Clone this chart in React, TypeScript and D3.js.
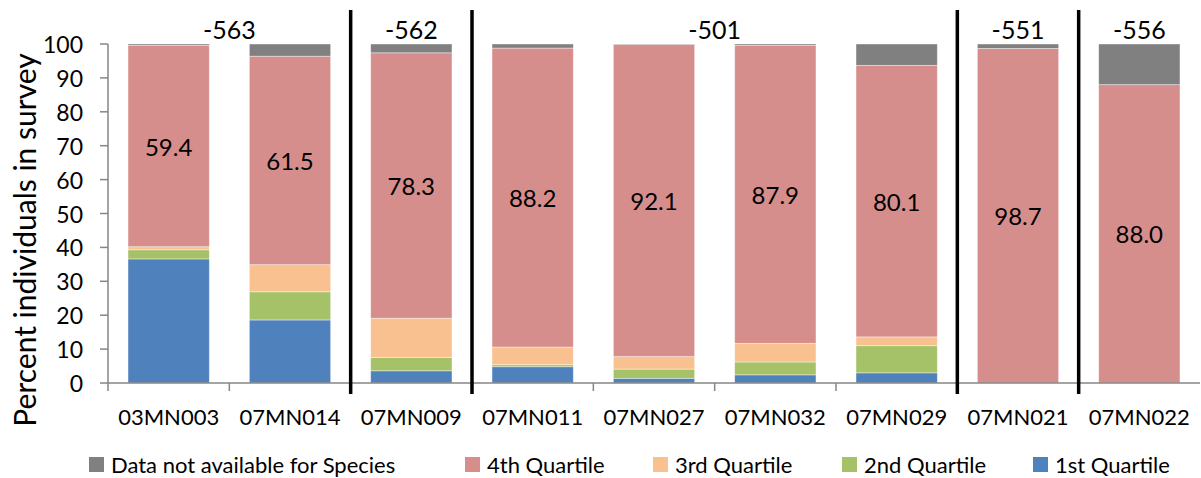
import React from "react";
import * as d3 from "d3";

const categories = ["03MN003", "07MN014", "07MN009", "07MN011", "07MN027", "07MN032", "07MN029", "07MN021", "07MN022"];
const q1 = [36.6, 18.6, 3.6, 4.8, 1.4, 2.4, 3.0, 0, 0];
const q2 = [2.7, 8.3, 3.9, 0.6, 2.7, 3.8, 8.0, 0, 0];
const q3 = [0.9, 8.0, 11.6, 5.2, 3.7, 5.5, 2.6, 0, 0];
const q4 = [59.4, 61.5, 78.3, 88.2, 92.1, 87.9, 80.1, 98.7, 88.0];
const na = [0.4, 3.6, 2.6, 1.2, 0.1, 0.4, 6.3, 1.3, 12.0];
const q4Labels = ["59.4", "61.5", "78.3", "88.2", "92.1", "87.9", "80.1", "98.7", "88.0"];
const groups = [
  { label: "-563", from: 0, to: 1 },
  { label: "-562", from: 2, to: 2 },
  { label: "-501", from: 3, to: 6 },
  { label: "-551", from: 7, to: 7 },
  { label: "-556", from: 8, to: 8 },
];
const yTicks = [0, 10, 20, 30, 40, 50, 60, 70, 80, 90, 100];

const seriesKeys = ["q1", "q2", "q3", "q4", "na"];
const seriesNames: Record<string, string> = {
  na: "Data not available for Species",
  q4: "4th Quartile",
  q3: "3rd Quartile",
  q2: "2nd Quartile",
  q1: "1st Quartile",
};
const colors: Record<string, string> = {
  na: "#808080",
  q4: "#D68E8C",
  q3: "#F9C190",
  q2: "#A5C268",
  q1: "#4F81BD",
};
const legendOrder = ["na", "q4", "q3", "q2", "q1"];

const W = 1201;
const H = 478;
const left = 108;
const right = 1200;
const top = 44;
const bottom = 383;
const FONT = "Lato, 'Open Sans', sans-serif";

export default function App() {
  const rows = categories.map((c, i) => ({ cat: c, q1: q1[i], q2: q2[i], q3: q3[i], q4: q4[i], na: na[i] }));
  const stack = d3.stack<any>().keys(seriesKeys)(rows);
  const x = d3.scaleBand().domain(categories).range([left, right]).paddingInner(0.33).paddingOuter(0.165);
  const xb = d3.scaleBand().domain(categories).range([left, right]);
  const y = d3.scaleLinear().domain([0, 100]).range([bottom, top]);

  const legendX = [89, 465, 653, 842, 1033];

  return (
    <svg width={W} height={H} style={{ position: "absolute", left: 0, top: 0, fontFamily: FONT }}>
      <rect width={W} height={H} fill="#fff" />
      {stack.map((s) => (
        <g key={s.key}>
          {s.map((d, i) =>
            d[1] - d[0] > 0 ? (
              <rect
                key={i}
                x={x(categories[i])!}
                width={x.bandwidth()}
                y={y(d[1])}
                height={y(d[0]) - y(d[1])}
                fill={colors[s.key]}
                stroke="#fff"
                strokeOpacity={0.5}
                strokeWidth={0.8}
              />
            ) : null
          )}
        </g>
      ))}
      {/* Q4 labels */}
      {stack[3].map((d, i) => (
        <text
          key={i}
          x={x(categories[i])! + x.bandwidth() / 2}
          y={y((d[0] + d[1]) / 2)}
          textAnchor="middle"
          dominantBaseline="central"
          fontSize={24}
          fill="#000"
        >
          {q4Labels[i]}
        </text>
      ))}
      {/* y axis */}
      <line x1={left} x2={left} y1={y(100)} y2={bottom} stroke="#868686" strokeWidth={1.5} />
      {yTicks.map((t) => (
        <g key={t}>
          <line x1={left - 8} x2={left} y1={y(t)} y2={y(t)} stroke="#868686" strokeWidth={1.5} />
          <text x={left - 25} y={y(t)} textAnchor="end" dominantBaseline="central" fontSize={23} fill="#000">
            {t}
          </text>
        </g>
      ))}
      {/* x axis */}
      <line x1={left} x2={right} y1={bottom} y2={bottom} stroke="#868686" strokeWidth={1.5} />
      {categories.map((c) => (
        <g key={c}>
          <line x1={xb(c)!} x2={xb(c)!} y1={bottom} y2={bottom + 8} stroke="#868686" strokeWidth={1.5} />
          <text x={xb(c)! + xb.bandwidth() / 2} y={416} textAnchor="middle" dominantBaseline="central" fontSize={22} fill="#000">
            {c}
          </text>
        </g>
      ))}
      {/* group dividers */}
      {groups.slice(1).map((g) => (
        <line key={g.label} x1={xb(categories[g.from])!} x2={xb(categories[g.from])!} y1={10} y2={394} stroke="#000" strokeWidth={3.5} />
      ))}
      {/* group labels */}
      {groups.map((g) => {
        const cx = (xb(categories[g.from])! + xb(categories[g.to])! + xb.bandwidth()) / 2;
        return (
          <text key={g.label} x={cx} y={29} textAnchor="middle" dominantBaseline="central" fontSize={25} fill="#000">
            {g.label}
          </text>
        );
      })}
      {/* y title */}
      <text
        transform={`translate(24, 240) rotate(-90)`}
        textAnchor="middle"
        dominantBaseline="central"
        fontSize={30}
        fill="#000"
      >
        Percent individuals in survey
      </text>
      {/* legend */}
      {legendOrder.map((k, i) => (
        <g key={k}>
          <rect x={legendX[i]} y={457} width={15} height={15} fill={colors[k]} />
          <text x={legendX[i] + 22} y={464} dominantBaseline="central" fontSize={22} fill="#000">
            {seriesNames[k]}
          </text>
        </g>
      ))}
    </svg>
  );
}
